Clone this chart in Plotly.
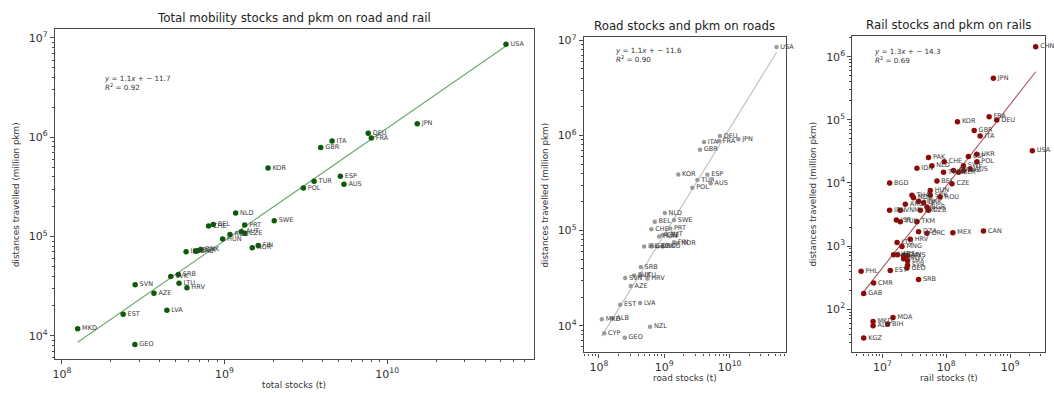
import numpy as np
import plotly.graph_objects as go

W, H = 1054, 393
FONT = "DejaVu Sans"

# ---------------- total mobility stocks (road + rail) ----------------
total_iso = ["USA", "JPN", "DEU", "FRA", "ITA", "GBR", "KOR", "ESP", "TUR", "AUS",
             "POL", "NLD", "SWE", "CHE", "BEL", "PRT", "AUT", "CZE", "ROU", "HUN",
             "NOR", "FIN", "IRL", "GRC", "DNK", "BGR", "SRB", "SVK", "LTU", "HRV",
             "SVN", "AZE", "EST", "LVA", "MKD", "GEO"]
total_stocks = [5.37e10, 1.53e10, 7.64e9, 7.98e9, 4.58e9, 3.90e9, 1.85e9, 5.15e9, 3.55e9, 5.42e9,
                3.05e9, 1.17e9, 2.02e9, 7.98e8, 8.53e8, 1.33e9, 1.27e9, 1.33e9, 1.08e9, 9.73e8,
                1.48e9, 1.61e9, 5.80e8, 6.64e8, 7.13e8, 6.82e8, 5.20e8, 4.67e8, 5.25e8, 5.87e8,
                2.82e8, 3.68e8, 2.38e8, 4.42e8, 1.25e8, 2.81e8]
total_pkm = [8.63e6, 1.37e6, 1.10e6, 9.84e5, 9.18e5, 7.87e5, 4.90e5, 4.05e5, 3.61e5, 3.37e5,
             3.08e5, 1.73e5, 1.44e5, 1.28e5, 1.32e5, 1.31e5, 1.12e5, 1.08e5, 1.05e5, 9.46e4,
             7.69e4, 8.11e4, 7.01e4, 7.11e4, 7.40e4, 7.18e4, 4.14e4, 3.96e4, 3.39e4, 3.05e4,
             3.26e4, 2.68e4, 1.65e4, 1.81e4, 1.18e4, 8.17e3]

# ---------------- road stocks ----------------
road_iso = ["USA", "JPN", "DEU", "FRA", "ITA", "GBR", "KOR", "ESP", "TUR", "AUS",
            "POL", "NLD", "BEL", "SWE", "CHE", "PRT", "AUT", "CZE", "HUN", "FIN",
            "NOR", "IRL", "GRC", "DNK", "ROU", "SRB", "SVN", "SVK", "LTU", "HRV",
            "AZE", "EST", "LVA", "MKD", "ALB", "NZL", "CYP", "GEO"]
road_stocks = [5.22e10, 1.36e10, 7.11e9, 6.87e9, 4.06e9, 3.52e9, 1.64e9, 4.56e9, 3.21e9, 5.13e9,
               2.69e9, 1.02e9, 7.16e8, 1.41e9, 6.37e8, 1.23e9, 1.05e9, 9.38e8, 8.34e8, 1.41e9,
               1.59e9, 4.92e8, 6.37e8, 7.87e8, 9.38e8, 4.38e8, 2.53e8, 3.46e8, 4.38e8, 5.53e8,
               3.08e8, 2.12e8, 4.28e8, 1.11e8, 1.62e8, 6.08e8, 1.21e8, 2.49e8]
road_pkm = [8.53e6, 9.12e5, 9.87e5, 8.75e5, 8.55e5, 7.06e5, 3.88e5, 3.85e5, 3.41e5, 3.15e5,
            2.82e5, 1.53e5, 1.24e5, 1.29e5, 1.03e5, 1.05e5, 9.21e4, 8.99e4, 8.65e4, 7.55e4,
            7.37e4, 6.80e4, 6.80e4, 6.80e4, 6.80e4, 4.14e4, 3.18e4, 3.37e4, 3.40e4, 3.13e4,
            2.61e4, 1.66e4, 1.73e4, 1.17e4, 1.20e4, 9.77e3, 8.32e3, 7.45e3]

# ---------------- rail stocks ----------------
rail_iso = ["CHN", "JPN", "USA", "FRA", "DEU", "KOR", "GBR", "ITA", "UKR", "ESP",
            "PAK", "POL", "CHE", "NLD", "IDN", "SWE", "AUT", "BLR", "KAZ", "AUS",
            "TWN", "BEL", "CZE", "BGD", "HUN", "SVK", "ROU", "THA", "NOR", "FIN",
            "DNK", "ARG", "IRN", "VNM", "PRT", "BGR", "UZB", "ISR", "TUN", "TKM",
            "DZA", "GRC", "MEX", "CAN", "HRV", "LTU", "MNG", "LVA", "AZE", "SVN",
            "MYS", "IRQ", "LUX", "SYR", "GEO", "PHL", "EST", "SRB", "CMR", "GAB",
            "MDA", "MKD", "ALB", "BIH", "KGZ"]
rail_stocks = [2.52e9, 5.48e8, 2.23e9, 4.70e8, 6.19e8, 1.50e8, 2.74e8, 3.40e8, 3.02e8, 2.23e8,
               5.28e7, 3.02e8, 9.31e7, 5.98e7, 3.48e7, 1.86e8, 1.30e8, 1.56e8, 1.86e8, 2.37e8,
               9.08e7, 7.16e7, 1.23e8, 1.30e7, 5.62e7, 5.62e7, 8.05e7, 2.91e7, 3.08e7, 3.69e7,
               4.42e7, 2.29e7, 1.30e7, 1.91e7, 3.93e7, 4.99e7, 5.28e7, 1.66e7, 1.91e7, 3.48e7,
               3.69e7, 4.99e7, 1.27e8, 3.83e8, 2.74e7, 1.70e7, 2.03e7, 1.50e7, 1.73e7, 2.15e7,
               2.48e7, 2.15e7, 2.48e7, 2.48e7, 2.43e7, 4.65e6, 1.33e7, 3.69e7, 7.31e6, 5.11e6,
               1.47e7, 7.16e6, 7.16e6, 1.21e7, 5.11e6]
rail_pkm = [1.44e6, 4.57e5, 3.24e4, 1.12e5, 9.91e4, 9.31e4, 6.81e4, 5.56e4, 2.86e4, 2.63e4,
            2.54e4, 2.17e4, 2.17e4, 1.88e4, 1.71e4, 1.88e4, 1.57e4, 1.48e4, 1.57e4, 1.66e4,
            1.48e4, 1.07e4, 9.68e3, 1.00e4, 7.62e3, 6.37e3, 5.98e3, 6.37e3, 5.83e3, 5.13e3,
            4.88e3, 4.60e3, 3.71e3, 3.71e3, 3.71e3, 4.17e3, 3.71e3, 2.58e3, 2.43e3, 2.43e3,
            1.69e3, 1.59e3, 1.63e3, 1.73e3, 1.28e3, 1.14e3, 9.84e2, 7.29e2, 7.29e2, 7.11e2,
            7.11e2, 6.31e2, 5.87e2, 4.95e2, 4.50e2, 3.99e2, 4.09e2, 2.96e2, 2.61e2, 1.78e2,
            73.8, 63.8, 54.7, 58.2, 35.1]

fit_labels = [
    ("<i>y</i> = 1.1<i>x</i> + − 11.7", "<i>R</i><sup>2</sup> = 0.92"),
    ("<i>y</i> = 1.1<i>x</i> + − 11.6", "<i>R</i><sup>2</sup> = 0.90"),
    ("<i>y</i> = 1.3<i>x</i> + − 14.3", "<i>R</i><sup>2</sup> = 0.69"),
]
titles = ["Total mobility stocks and pkm on road and rail",
          "Road stocks and pkm on roads",
          "Rail stocks and pkm on rails"]
x_titles = ["total stocks (t)", "road stocks (t)", "rail stocks (t)"]
y_title = "distances travelled (million pkm)"

# panel geometry in pixels: left, right, top, bottom of the plotting frame
frames = [(53, 533, 25, 359), (583, 785, 33, 352), (852, 1045, 32, 352)]
x_ranges = [(7.957, 10.902), (7.771, 10.855), (6.531, 9.547)]
y_ranges = [(3.763, 7.093), (3.719, 7.0385), (1.315, 6.334)]
x_major = [[8, 9, 10], [8, 9, 10], [7, 8, 9]]
y_major = [[4, 5, 6, 7], [4, 5, 6, 7], [2, 3, 4, 5, 6]]

marker_colors = ["#0a5c0a", "#9b9b9b", "#8e0b0b"]
line_colors = ["rgba(60,140,60,0.75)", "rgba(185,185,185,0.9)", "rgba(150,40,50,0.8)"]
marker_sizes = [5.5, 4.5, 5.5]

datasets = [(total_iso, total_stocks, total_pkm),
            (road_iso, road_stocks, road_pkm),
            (rail_iso, rail_stocks, rail_pkm)]

fig = go.Figure()
annotations = []
layout_axes = {}

for i, (iso, xs, ys) in enumerate(datasets):
    n = "" if i == 0 else str(i + 1)
    xa, ya = "x" + n, "y" + n
    xs_a, ys_a = np.array(xs), np.array(ys)

    # log-log least squares fit drawn across the data range
    slope, icpt = np.polyfit(np.log(xs_a), np.log(ys_a), 1)
    lx = np.geomspace(xs_a.min(), xs_a.max(), 60)
    ly = np.exp(icpt) * lx ** slope
    fig.add_trace(go.Scatter(x=lx, y=ly, mode="lines", xaxis=xa, yaxis=ya,
                             line=dict(color=line_colors[i], width=1.1),
                             hoverinfo="skip", showlegend=False))
    fig.add_trace(go.Scatter(x=xs, y=ys, mode="markers+text", text=iso,
                             textposition="middle right", cliponaxis=False,
                             textfont=dict(family=FONT, size=6.5, color="#3a3a3a"),
                             marker=dict(color=marker_colors[i], size=marker_sizes[i]),
                             xaxis=xa, yaxis=ya, showlegend=False))

    l, r, t, b = frames[i]
    xdom = [l / W, r / W]
    ydom = [1 - b / H, 1 - t / H]
    axis_common = dict(type="log", showline=True, mirror=True, linecolor="#4a4a4a",
                       linewidth=1.3, ticks="outside", ticklen=4, tickwidth=1,
                       tickcolor="#4a4a4a", showgrid=False, zeroline=False,
                       tickfont=dict(family=FONT, size=11, color="#333"))
    xminor = [m * 10.0 ** d for d in range(int(np.floor(x_ranges[i][0])), int(np.ceil(x_ranges[i][1])))
              for m in range(2, 10)]
    yminor = [m * 10.0 ** d for d in range(int(np.floor(y_ranges[i][0])), int(np.ceil(y_ranges[i][1])))
              for m in range(2, 10)]
    layout_axes["xaxis" + n] = dict(axis_common, domain=xdom, range=list(x_ranges[i]), anchor=ya,
                                    tickvals=[10.0 ** d for d in x_major[i]],
                                    ticktext=[f"10<sup>{d}</sup>" for d in x_major[i]],
                                    minor=dict(tickvals=xminor, ticks="outside", ticklen=2,
                                               tickcolor="#4a4a4a"))
    layout_axes["yaxis" + n] = dict(axis_common, domain=ydom, range=list(y_ranges[i]), anchor=xa,
                                    tickvals=[10.0 ** d for d in y_major[i]],
                                    ticktext=[f"10<sup>{d}</sup>" for d in y_major[i]],
                                    minor=dict(tickvals=yminor, ticks="outside", ticklen=2,
                                               tickcolor="#4a4a4a"))

    cx = (l + r) / 2
    annotations.append(dict(text=titles[i], x=cx / W, y=1 - (t - 11) / H, xref="paper", yref="paper",
                            xanchor="center", yanchor="middle", showarrow=False,
                            font=dict(family=FONT, size=11.8, color="#222")))
    annotations.append(dict(text=x_titles[i], x=cx / W, y=1 - (b + 26) / H, xref="paper", yref="paper",
                            xanchor="center", yanchor="middle", showarrow=False,
                            font=dict(family=FONT, size=8.8, color="#333")))
    annotations.append(dict(text=y_title, x=(l - 39) / W, y=1 - ((t + b) / 2) / H, xref="paper",
                            yref="paper", xanchor="center", yanchor="middle", textangle=-90,
                            showarrow=False, font=dict(family=FONT, size=8.8, color="#333")))
    eq, r2 = fit_labels[i]
    ex = [100, 612, 872][i]
    ey = [75, 46, 47][i]
    annotations.append(dict(text=eq + "<br>" + r2, x=ex / W, y=1 - (ey - 6) / H, xref="paper",
                            yref="paper", xanchor="left", yanchor="top", align="left",
                            showarrow=False, font=dict(family=FONT, size=7.2, color="#333")))

fig.update_layout(width=W, height=H, margin=dict(l=0, r=0, t=0, b=0),
                  paper_bgcolor="white", plot_bgcolor="white",
                  annotations=annotations, **layout_axes)
fig.write_html("out.html")
